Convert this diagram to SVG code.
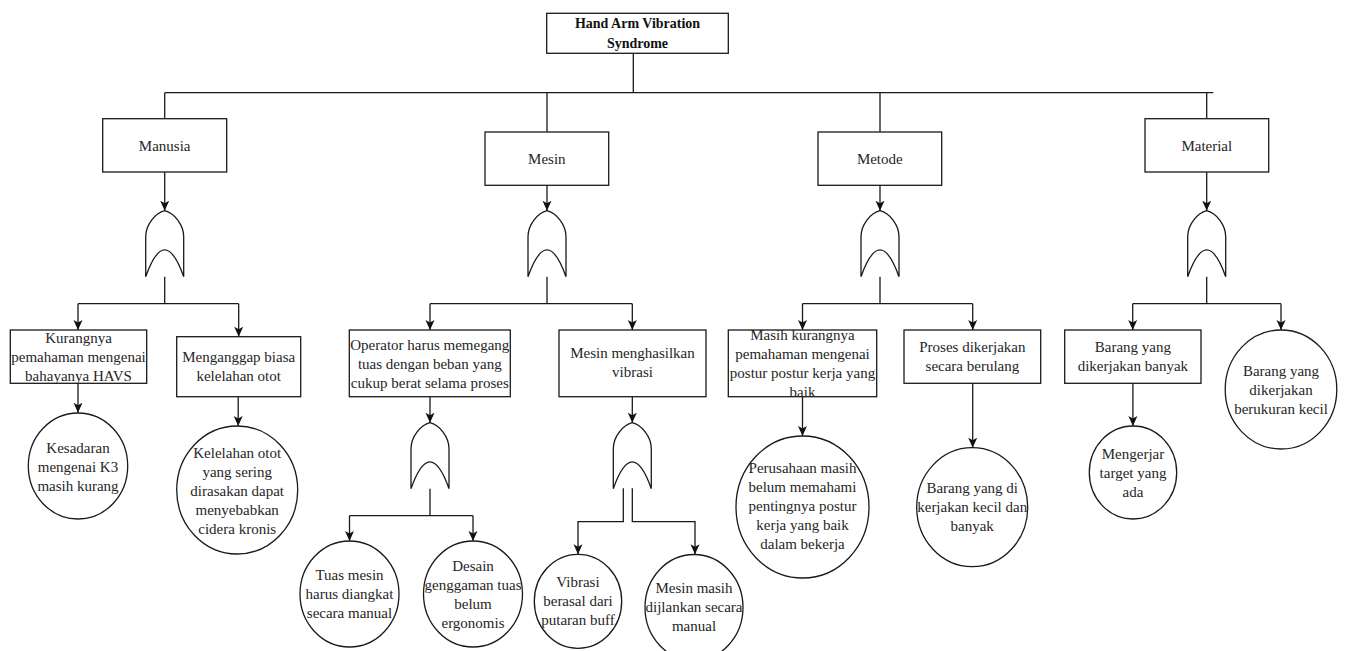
<svg xmlns="http://www.w3.org/2000/svg" width="1346" height="651" viewBox="0 0 1346 651">
  <defs>
    <style>
      .box { fill: #fff; stroke: #1a1a1a; stroke-width: 1.3; }
      .gate { fill: none; stroke: #1a1a1a; stroke-width: 1.3; stroke-linejoin: miter; }
      .wire { fill: none; stroke: #1a1a1a; stroke-width: 1.3; }
      .arr { marker-end: url(#head); }
      text { font-family: "Liberation Serif", "Times New Roman", serif; font-size: 15px; fill: #262626; text-anchor: middle; }
      .title { font-weight: bold; font-size: 14px; fill: #111; }
    </style>
    <marker id="head" markerUnits="userSpaceOnUse" markerWidth="10" markerHeight="10" viewBox="0 0 10 9" refX="10" refY="4.5" orient="auto">
      <path d="M0,0 L10,4.5 L0,9 L2.5,4.5 Z" fill="#111"/>
    </marker>
    <!-- OR gate, origin at the apex -->
    <path id="orgate" d="M -19,66 L -19,26 C -19,14 -9,2 0,0 C 9,2 19,14 19,26 L 19,66 M -19,66 Q 0,12.5 19,66"/>
  </defs>

  <rect width="1346" height="651" fill="#fff"/>

  <!-- connectors -->
  <g id="connectors">
    <!-- top event to categories -->
    <path class="wire" d="M633.3,53.3 V92.7 M164.7,92.7 H1213.3 M164.7,92.7 V118.7 M547,92.7 V132 M880,92.7 V132 M1206.7,92.7 V118.7"/>
    <!-- categories to gates -->
    <path class="wire arr" d="M164.7,172 V210.7"/>
    <path class="wire arr" d="M547,185.3 V210.7"/>
    <path class="wire arr" d="M880,185.3 V210.7"/>
    <path class="wire arr" d="M1206.7,172 V210.7"/>
    <!-- Manusia branches -->
    <path class="wire" d="M164.7,276.7 V303.7 M78,303.7 H238.7"/>
    <path class="wire arr" d="M78,303.7 V330"/>
    <path class="wire arr" d="M238.7,303.7 V336.7"/>
    <path class="wire arr" d="M78,383.3 V412.7"/>
    <path class="wire arr" d="M238.2,396.7 V426"/>
    <!-- Mesin branches -->
    <path class="wire" d="M547,276.7 V303.7 M430,303.7 H632.3"/>
    <path class="wire arr" d="M430,303.7 V330"/>
    <path class="wire arr" d="M632.3,303.7 V330"/>
    <path class="wire arr" d="M430,396.7 V422.7"/>
    <path class="wire" d="M430,488.7 V515.7 M349.5,515.7 H473"/>
    <path class="wire arr" d="M349.5,515.7 V541"/>
    <path class="wire arr" d="M473,515.7 V541"/>
    <path class="wire arr" d="M632.3,396.7 V422.7"/>
    <path class="wire arr" d="M623.3,488.3 V521.7 H578 V554.3"/>
    <path class="wire arr" d="M632.3,488.3 V521.7 H695 V554.3"/>
    <!-- Metode branches -->
    <path class="wire" d="M880,276.7 V303.7 M802.5,303.7 H972.7"/>
    <path class="wire arr" d="M802.5,303.7 V330"/>
    <path class="wire arr" d="M972.7,303.7 V330"/>
    <path class="wire arr" d="M802.5,396.7 V436"/>
    <path class="wire arr" d="M972.7,383.3 V447.7"/>
    <!-- Material branches -->
    <path class="wire" d="M1206.7,276.7 V303.7 M1132.7,303.7 H1281"/>
    <path class="wire arr" d="M1132.7,303.7 V330"/>
    <path class="wire arr" d="M1281,303.7 V330"/>
    <path class="wire arr" d="M1132.9,383.3 V426"/>
  </g>

  <!-- top event -->
  <g id="top-event">
    <rect class="box" x="546.7" y="13.3" width="181.6" height="40"/>
    <text class="title" x="637.5" y="28">Hand Arm Vibration</text>
    <text class="title" x="637.5" y="48">Syndrome</text>
  </g>

  <!-- categories -->
  <g id="manusia">
    <rect class="box" x="102.7" y="118.7" width="124" height="53.3"/>
    <text x="164.7" y="150.5">Manusia</text>
  </g>
  <g id="mesin">
    <rect class="box" x="485" y="132" width="123.7" height="53.3"/>
    <text x="546.8" y="164">Mesin</text>
  </g>
  <g id="metode">
    <rect class="box" x="818" y="132" width="123.7" height="53.3"/>
    <text x="879.8" y="164">Metode</text>
  </g>
  <g id="material">
    <rect class="box" x="1145" y="118.7" width="123.7" height="53.3"/>
    <text x="1206.8" y="150.5">Material</text>
  </g>

  <!-- OR gates -->
  <g id="gate-manusia"><use href="#orgate" class="gate" x="164.7" y="210.7"/></g>
  <g id="gate-mesin"><use href="#orgate" class="gate" x="547" y="210.7"/></g>
  <g id="gate-metode"><use href="#orgate" class="gate" x="880" y="210.7"/></g>
  <g id="gate-material"><use href="#orgate" class="gate" x="1206.7" y="210.7"/></g>
  <g id="gate-operator"><use href="#orgate" class="gate" x="430" y="422.7"/></g>
  <g id="gate-vibrasi"><use href="#orgate" class="gate" x="632.3" y="422.7"/></g>

  <!-- Manusia causes -->
  <g id="kurangnya">
    <rect class="box" x="10.3" y="330" width="136.4" height="53.3"/>
    <text x="78.5" y="343">Kurangnya</text>
    <text x="78.5" y="362">pemahaman mengenai</text>
    <text x="78.5" y="381">bahayanya HAVS</text>
  </g>
  <g id="menganggap">
    <rect class="box" x="176.7" y="336.7" width="124" height="60"/>
    <text x="238.7" y="361.5">Menganggap biasa</text>
    <text x="238.7" y="380.5">kelelahan otot</text>
  </g>
  <g id="kesadaran">
    <ellipse class="box" cx="78" cy="466" rx="49.7" ry="53"/>
    <text x="78" y="452.5">Kesadaran</text>
    <text x="78" y="471.5">mengenai K3</text>
    <text x="78" y="490.5">masih kurang</text>
  </g>
  <g id="kelelahan">
    <ellipse class="box" cx="237.2" cy="490" rx="60.5" ry="64"/>
    <text x="237.2" y="457.5">Kelelahan otot</text>
    <text x="237.2" y="476.5">yang sering</text>
    <text x="237.2" y="495.5">dirasakan dapat</text>
    <text x="237.2" y="514.5">menyebabkan</text>
    <text x="237.2" y="533.5">cidera kronis</text>
  </g>

  <!-- Mesin causes -->
  <g id="operator">
    <rect class="box" x="349.3" y="330" width="161" height="66.7"/>
    <text x="429.8" y="350">Operator harus memegang</text>
    <text x="429.8" y="369">tuas dengan beban yang</text>
    <text x="429.8" y="388">cukup berat selama proses</text>
  </g>
  <g id="tuas">
    <ellipse class="box" cx="349.5" cy="594" rx="49.5" ry="53"/>
    <text x="349.5" y="580">Tuas mesin</text>
    <text x="349.5" y="599">harus diangkat</text>
    <text x="349.5" y="618">secara manual</text>
  </g>
  <g id="desain">
    <ellipse class="box" cx="473" cy="594" rx="49.5" ry="53"/>
    <text x="473" y="571">Desain</text>
    <text x="473" y="590">genggaman tuas</text>
    <text x="473" y="609">belum</text>
    <text x="473" y="628">ergonomis</text>
  </g>
  <g id="mesin-vibrasi">
    <rect class="box" x="559" y="330" width="147" height="66.7"/>
    <text x="632.5" y="358">Mesin menghasilkan</text>
    <text x="632.5" y="377">vibrasi</text>
  </g>
  <g id="putaran-buff">
    <ellipse class="box" cx="578" cy="601.3" rx="43.7" ry="47"/>
    <text x="578" y="586.5">Vibrasi</text>
    <text x="578" y="605.5">berasal dari</text>
    <text x="578" y="624.5">putaran buff</text>
  </g>
  <g id="mesin-manual">
    <ellipse class="box" cx="694" cy="607.5" rx="49" ry="53"/>
    <text x="694" y="593">Mesin masih</text>
    <text x="694" y="612">dijlankan secara</text>
    <text x="694" y="631">manual</text>
  </g>

  <!-- Metode causes -->
  <g id="postur">
    <rect class="box" x="728.3" y="330" width="148.4" height="66.7"/>
    <text x="802.5" y="340">Masih kurangnya</text>
    <text x="802.5" y="359">pemahaman mengenai</text>
    <text x="802.5" y="378">postur postur kerja yang</text>
    <text x="802.5" y="397">baik</text>
  </g>
  <g id="perusahaan">
    <ellipse class="box" cx="802.5" cy="507" rx="66.5" ry="71"/>
    <text x="802.5" y="473">Perusahaan masih</text>
    <text x="802.5" y="492">belum memahami</text>
    <text x="802.5" y="511">pentingnya postur</text>
    <text x="802.5" y="530">kerja yang baik</text>
    <text x="802.5" y="549">dalam bekerja</text>
  </g>
  <g id="berulang">
    <rect class="box" x="904" y="330" width="136.7" height="53.3"/>
    <text x="972.4" y="351.5">Proses dikerjakan</text>
    <text x="972.4" y="370.5">secara berulang</text>
  </g>
  <g id="kecil-banyak">
    <ellipse class="box" cx="972.2" cy="507.2" rx="55.5" ry="59.5"/>
    <text x="972.2" y="493">Barang yang di</text>
    <text x="972.2" y="512">kerjakan kecil dan</text>
    <text x="972.2" y="531">banyak</text>
  </g>

  <!-- Material causes -->
  <g id="barang-banyak">
    <rect class="box" x="1064.7" y="330" width="136.3" height="53.3"/>
    <text x="1132.9" y="351.5">Barang yang</text>
    <text x="1132.9" y="370.5">dikerjakan banyak</text>
  </g>
  <g id="target">
    <ellipse class="box" cx="1133" cy="472.5" rx="43.7" ry="46.5"/>
    <text x="1133" y="459">Mengerjar</text>
    <text x="1133" y="478">target yang</text>
    <text x="1133" y="497">ada</text>
  </g>
  <g id="barang-kecil">
    <ellipse class="box" cx="1281" cy="389.5" rx="55.8" ry="59.5"/>
    <text x="1281" y="375.5">Barang yang</text>
    <text x="1281" y="394.5">dikerjakan</text>
    <text x="1281" y="413.5">berukuran kecil</text>
  </g>
</svg>
